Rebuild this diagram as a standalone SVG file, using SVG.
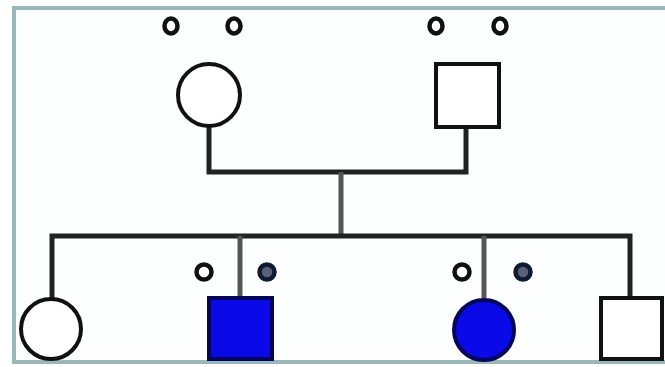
<svg xmlns="http://www.w3.org/2000/svg" width="665" height="367" viewBox="0 0 665 367">
<style>
.open{fill:#fff;stroke:#111;stroke-width:4}
.aff{fill:#0a0ae8;stroke:#05055a;stroke-width:4}
.dot{fill:#fff;stroke:#111;stroke-width:4.5}
.car{fill:#5a6078;stroke:#111a33;stroke-width:4.5}
.ln{fill:none;stroke:#222;stroke-width:5}
.lg{fill:none;stroke:#555;stroke-width:5}
</style>
<rect x="0" y="0" width="665" height="367" fill="#fff"/>
<rect x="14" y="8" width="660" height="354" fill="#fdfefe" stroke="#9ab8b8" stroke-width="4"/>
<g id="connectors">
<polyline class="ln" points="209,126 209,172 466,172 466,127"/>
<line class="lg" x1="341" y1="172" x2="341" y2="236"/>
<polyline class="ln" points="52,298 52,236 630,236 630,298"/>
<line class="lg" x1="240" y1="236" x2="240" y2="298"/>
<line class="lg" x1="484" y1="236" x2="484" y2="298"/>
</g>
<g id="grandmother"><circle class="open" cx="209" cy="95" r="31"/></g>
<g id="grandfather"><rect class="open" x="436" y="64" width="63" height="63"/></g>
<g id="markers-top">
<ellipse class="dot" cx="171" cy="26" rx="6.5" ry="7.5"/>
<ellipse class="dot" cx="234" cy="26" rx="6.5" ry="7.5"/>
<ellipse class="dot" cx="436" cy="26" rx="6.5" ry="7.5"/>
<ellipse class="dot" cx="500" cy="26" rx="6.5" ry="7.5"/>
</g>
<g id="child1"><circle class="open" cx="51" cy="329" r="30"/></g>
<g id="child2"><rect class="aff" x="209" y="298" width="63" height="61"/>
<circle class="dot" cx="204" cy="272" r="7.5"/>
<circle class="car" cx="267" cy="272" r="7.5"/></g>
<g id="child3"><circle class="aff" cx="484" cy="330" r="30"/>
<circle class="dot" cx="462" cy="272" r="7.5"/>
<circle class="car" cx="523" cy="272" r="7.5"/></g>
<g id="child4"><rect class="open" x="601" y="298" width="61" height="61"/></g>
</svg>
